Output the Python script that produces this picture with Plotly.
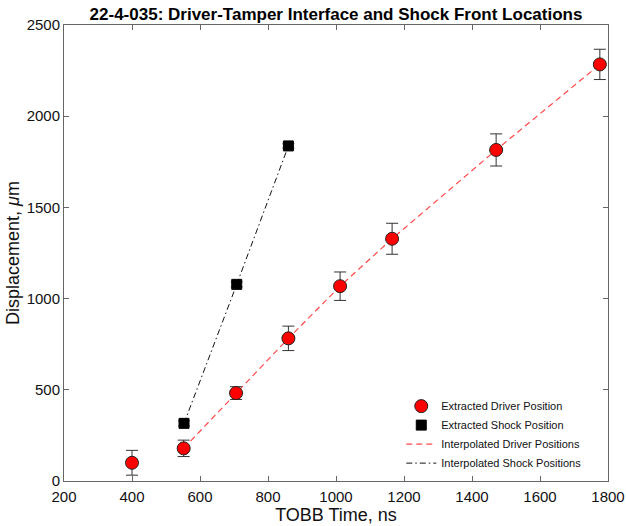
import plotly.graph_objects as go

# Driver-tamper interface positions (TOBB time in ns, displacement in um)
driver_time = [400, 552, 706, 860, 1012, 1165, 1471, 1776]
driver_disp = [100, 179, 482, 782, 1068, 1328, 1815, 2284]
driver_err = [68, 45, 35, 67, 78, 85, 88, 83]

# Shock front positions
shock_time = [553, 708, 860]
shock_disp = [316, 1078, 1837]
shock_err = [14, 14, 12]

# Interpolated curves run through the extracted points from the first shock time on
interp_driver_time = driver_time[1:]
interp_driver_disp = driver_disp[1:]

title_text = "22-4-035: Driver-Tamper Interface and Shock Front Locations"
x_ticks = [200, 400, 600, 800, 1000, 1200, 1400, 1600, 1800]
y_ticks = [0, 500, 1000, 1500, 2000, 2500]

FONT = "Liberation Sans, Arial, Helvetica, sans-serif"

fig = go.Figure()

# Interpolated lines (drawn first so the markers sit on top)
fig.add_trace(go.Scatter(
    x=interp_driver_time, y=interp_driver_disp, mode="lines",
    name="Interpolated Driver Positions", legendrank=3,
    line=dict(color="rgba(255,40,40,0.85)", width=1.2, dash="6px,4px"),
))
fig.add_trace(go.Scatter(
    x=shock_time, y=shock_disp, mode="lines",
    name="Interpolated Shock Positions", legendrank=4,
    line=dict(color="#111111", width=1, dash="6px,3px,1.5px,3px"),
))

fig.add_trace(go.Scatter(
    x=driver_time, y=driver_disp, mode="markers",
    name="Extracted Driver Position", legendrank=1,
    marker=dict(symbol="circle", size=13, color="#ff0000",
                line=dict(color="#222222", width=1)),
    error_y=dict(type="data", array=driver_err, visible=True,
                 color="#333333", thickness=1, width=6),
))
fig.add_trace(go.Scatter(
    x=shock_time, y=shock_disp, mode="markers",
    name="Extracted Shock Position", legendrank=2,
    marker=dict(symbol="square", size=10, color="#000000",
                line=dict(color="#000000", width=1)),
    error_y=dict(type="data", array=shock_err, visible=True,
                 color="#555555", thickness=1, width=6),
))

axis_common = dict(
    showline=True, linecolor="#666666", linewidth=1, mirror="ticks",
    ticks="inside", ticklen=5, tickcolor="#666666", tickwidth=1,
    showgrid=False, zeroline=False, automargin=False,
    tickfont=dict(family=FONT, size=15, color="#111111"),
)

fig.update_layout(
    width=626, height=526,
    margin=dict(l=64, r=18, t=25, b=45),
    paper_bgcolor="white", plot_bgcolor="white",
    title=dict(text="<b>" + title_text + "</b>", x=0.5, xref="paper",
               xanchor="center", y=1 - 14 / 526, yanchor="middle",
               font=dict(family=FONT, size=17, color="#000000")),
    xaxis=dict(range=[200, 1800], tickvals=x_ticks, ticklabelstandoff=2,
               title=dict(text="TOBB Time, ns", standoff=0,
                          font=dict(family=FONT, size=18, color="#111111")),
               **axis_common),
    yaxis=dict(range=[0, 2500], tickvals=y_ticks,
               title=dict(text="Displacement, <i>μ</i>m", standoff=2,
                          font=dict(family=FONT, size=18, color="#111111")),
               **axis_common),
    legend=dict(x=0.62, y=0.196, xanchor="left", yanchor="top",
                bgcolor="rgba(255,255,255,0)", borderwidth=0,
                font=dict(family=FONT, size=11, color="#111111"),
                traceorder="normal", itemwidth=30, tracegroupgap=0),
    showlegend=True,
)

fig.write_html("out.html")
